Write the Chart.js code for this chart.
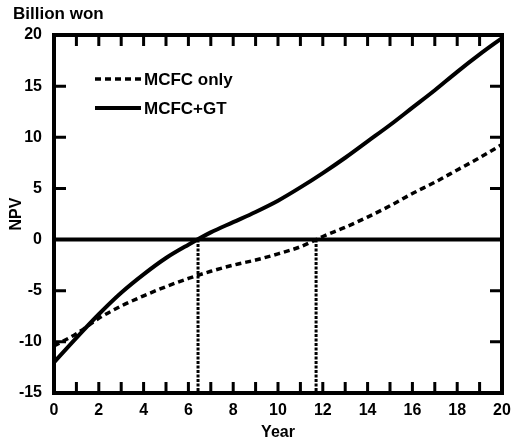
<!DOCTYPE html>
<html>
<head>
<meta charset="utf-8">
<script src="https://cdn.jsdelivr.net/npm/chart.js@4"></script>
<style>
  html, body { margin: 0; padding: 0; background: #fff; }
  #wrap { width: 512px; height: 442px; }
</style>
</head>
<body>
<div id="wrap"><canvas id="npvChart" width="512" height="442"></canvas></div>
<script>
// values
const years = [0, 1, 2, 3, 4, 5, 6, 7, 8, 9, 10, 11, 12, 13, 14, 15, 16, 17, 18, 19, 20];
const mcfcOnly = [-10.4, -9.2, -7.7, -6.5, -5.5, -4.6, -3.8, -3.1, -2.5, -2.0, -1.4, -0.7, 0.3, 1.2, 2.2, 3.3, 4.5, 5.6, 6.8, 8.0, 9.3];
const mcfcGt = [-12.0, -9.6, -7.3, -5.2, -3.4, -1.8, -0.5, 0.7, 1.7, 2.7, 3.8, 5.1, 6.5, 8.0, 9.6, 11.2, 12.9, 14.6, 16.4, 18.1, 19.7];
const breakEven = [6.43, 11.7];
const zeroLine = [0, 20];
const yMin = -15, yMax = 20;

const FONT = "'Liberation Sans', Arial, sans-serif";
Chart.defaults.font.family = FONT;
Chart.defaults.color = '#000';

function toPoints(xs, ys) {
    return xs.map((x, i) => ({ x: x, y: ys[i] }));
}

// frame, inward ticks, legend and unit label
const framePlugin = {
    id: 'frame',
    afterDatasetsDraw(chart) {
        const { ctx, chartArea: a, scales: { x, y } } = chart;
        ctx.save();
        ctx.strokeStyle = '#000';
        ctx.lineWidth = 3;
        ctx.beginPath();
        x.ticks.forEach(t => {
            const px = x.getPixelForValue(t.value);
            ctx.moveTo(px, a.bottom); ctx.lineTo(px, a.bottom - 11);
            ctx.moveTo(px, a.top); ctx.lineTo(px, a.top + 11);
        });
        y.ticks.forEach(t => {
            const py = y.getPixelForValue(t.value);
            ctx.moveTo(a.left, py); ctx.lineTo(a.left + 12, py);
            ctx.moveTo(a.right, py); ctx.lineTo(a.right - 12, py);
        });
        ctx.stroke();

        ctx.lineWidth = 4;
        ctx.strokeRect(a.left, a.top, a.right - a.left, a.bottom - a.top);

        // legend inside the plot
        ctx.font = 'bold 17px ' + FONT;
        ctx.fillStyle = '#000';
        ctx.textBaseline = 'middle';
        const items = [chart.data.datasets[0], chart.data.datasets[1]];
        items.forEach((ds, i) => {
            const ly = a.top + 44 + i * 29;
            ctx.lineWidth = ds.borderWidth;
            ctx.setLineDash(ds.borderDash || []);
            ctx.beginPath();
            ctx.moveTo(a.left + 41, ly);
            ctx.lineTo(a.left + 87, ly);
            ctx.stroke();
            ctx.setLineDash([]);
            ctx.fillText(ds.label, a.left + 90, ly + 1);
        });

        ctx.textBaseline = 'alphabetic';
        ctx.fillText('Billion won', 13, 19);
        ctx.restore();
    }
};

new Chart(document.getElementById('npvChart').getContext('2d'), {
    type: 'line',
    data: {
        datasets: [{
            label: 'MCFC only',
            data: toPoints(years, mcfcOnly),
            borderColor: '#000',
            borderWidth: 3.5,
            borderDash: [6, 4],
            pointRadius: 0,
            cubicInterpolationMode: 'monotone'
        }, {
            label: 'MCFC+GT',
            data: toPoints(years, mcfcGt),
            borderColor: '#000',
            borderWidth: 4,
            pointRadius: 0,
            cubicInterpolationMode: 'monotone'
        }, {
            label: 'zero',
            data: toPoints(zeroLine, [0, 0]),
            borderColor: '#000',
            borderWidth: 4,
            pointRadius: 0
        }, {
            label: 'break-even 1',
            data: toPoints([breakEven[0], breakEven[0]], [0, yMin]),
            borderColor: '#000',
            borderWidth: 3,
            borderDash: [3, 1.5],
            pointRadius: 0
        }, {
            label: 'break-even 2',
            data: toPoints([breakEven[1], breakEven[1]], [0, yMin]),
            borderColor: '#000',
            borderWidth: 3,
            borderDash: [3, 1.5],
            pointRadius: 0
        }]
    },
    options: {
        responsive: false,
        animation: false,
        layout: { padding: { top: 35, right: 10, left: 0, bottom: 0 } },
        plugins: {
            legend: { display: false },
            tooltip: { enabled: false }
        },
        scales: {
            x: {
                type: 'linear',
                min: 0,
                max: 20,
                grid: { display: false, drawTicks: false },
                border: { display: false },
                ticks: {
                    stepSize: 1,
                    padding: 8,
                    maxRotation: 0,
                    autoSkip: false,
                    font: { size: 16, weight: 'bold' },
                    callback: v => (v % 2 === 0 ? v : '')
                },
                title: {
                    display: true,
                    text: 'Year',
                    font: { size: 16, weight: 'bold' },
                    padding: { top: 0, bottom: 0 }
                },
                afterFit(scale) {
                    scale.height = 49;
                    scale.paddingLeft = 0;
                    scale.paddingRight = 0;
                }
            },
            y: {
                min: yMin,
                max: yMax,
                grid: { display: false, drawTicks: false },
                border: { display: false },
                ticks: {
                    stepSize: 5,
                    padding: 12,
                    font: { size: 16, weight: 'bold' }
                },
                title: {
                    display: true,
                    text: 'NPV',
                    font: { size: 16, weight: 'bold' },
                    padding: { top: 7, bottom: 0 }
                },
                afterFit(scale) {
                    scale.width = 54;
                    scale.paddingTop = 0;
                    scale.paddingBottom = 0;
                }
            }
        }
    },
    plugins: [framePlugin]
});
</script>
</body>
</html>
